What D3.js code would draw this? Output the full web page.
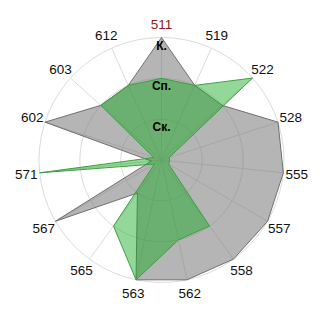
<!DOCTYPE html>
<html>
<head>
<meta charset="utf-8">
<script src="https://cdn.jsdelivr.net/npm/d3@7"></script>
<style>
  html, body { margin: 0; padding: 0; background: #fff; }
  svg { display: block; font-family: "Liberation Sans", Arial, sans-serif; }
</style>
</head>
<body>
<svg id="chart" width="320" height="320"></svg>
<script>
const categories = ["511","519","522","528","555","557","558","562","563","565","567","571","602","603","612"];
const grayValues  = [3, 2, 2, 3, 3, 3, 3, 3, 3, 1, 3, 0.25, 3, 2, 2];
const greenValues = [2, 2, 3, 0.2, 0.2, 0.2, 2, 2, 3, 2, 0.2, 3, 0.2, 2, 2];
const levels = [1, 2, 3];
const levelLabels = ["Ск.", "Сп.", "К."];
const highlighted = "511";

const svg = d3.select("#chart");
const cx = 161.5, cy = 160, R = 122.5;
const g = svg.append("g").attr("transform", `translate(${cx},${cy})`);

const r = d3.scaleLinear().domain([0, 3]).range([0, R]);
const angle = d3.scaleLinear().domain([0, categories.length]).range([0, 2 * Math.PI]);

// grid circles
g.selectAll("circle.grid").data(levels).join("circle")
  .attr("class", "grid")
  .attr("r", d => r(d))
  .attr("fill", "none")
  .attr("stroke", "#dcdcdc")
  .attr("stroke-width", 1);

// spokes
g.selectAll("line.spoke").data(categories).join("line")
  .attr("class", "spoke")
  .attr("x1", 0).attr("y1", 0)
  .attr("x2", (d, i) => r(3) * Math.sin(angle(i)))
  .attr("y2", (d, i) => -r(3) * Math.cos(angle(i)))
  .attr("stroke", "#dcdcdc")
  .attr("stroke-width", 1);

const line = d3.lineRadial()
  .angle((d, i) => angle(i))
  .radius(d => r(d))
  .curve(d3.curveLinearClosed);

g.append("path")
  .datum(grayValues)
  .attr("d", line)
  .attr("fill", "rgb(120,120,120)")
  .attr("fill-opacity", 0.55)
  .attr("stroke", "#707070")
  .attr("stroke-width", 1);

g.append("path")
  .datum(greenValues)
  .attr("d", line)
  .attr("fill", "rgb(20,170,30)")
  .attr("fill-opacity", 0.46)
  .attr("stroke", "#3f9f44")
  .attr("stroke-width", 1);

// category labels
const LR = 136;
g.selectAll("text.cat").data(categories).join("text")
  .attr("class", "cat")
  .attr("x", (d, i) => LR * Math.sin(angle(i)))
  .attr("y", (d, i) => -LR * Math.cos(angle(i)))
  .attr("text-anchor", "middle")
  .attr("dominant-baseline", "central")
  .attr("font-size", 13.5)
  .attr("fill", d => d === highlighted ? "#8b1a1a" : "#111")
  .text(d => d);

// level labels
g.selectAll("text.lvl").data(levels).join("text")
  .attr("class", "lvl")
  .attr("x", 0)
  .attr("y", d => -r(d) + 12)
  .attr("text-anchor", "middle")
  .attr("font-size", 12)
  .attr("font-weight", "bold")
  .attr("fill", "#000")
  .text((d, i) => levelLabels[i]);
</script>
</body>
</html>
